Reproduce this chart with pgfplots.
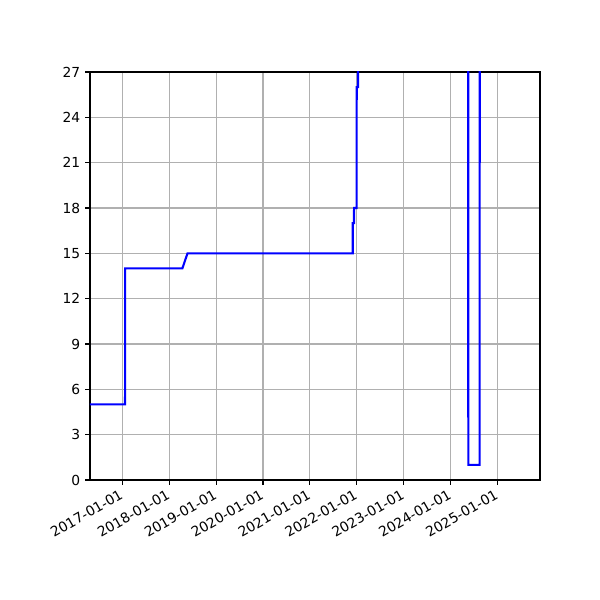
\documentclass[border=0pt]{standalone}
\usepackage{fontspec}
\setmainfont{DejaVu Sans}
\usepackage{pgfplots}
\pgfplotsset{compat=1.18}
\begin{document}
\fontsize{10}{12}\selectfont
\begin{tikzpicture}
\begin{axis}[
    name=ax,
    scale only axis,
    width=4.5in, height=4.08in,
    xmin=2016.311, xmax=2025.906,
    ymin=0, ymax=27,
    ytick={0,3,...,27},
    xtick={2017,2018,2019,2020,2021,2022,2023,2024,2025},
    xticklabels={2017-01-01,2018-01-01,2019-01-01,2020-01-01,2021-01-01,2022-01-01,2023-01-01,2024-01-01,2025-01-01},
    x tick label style={rotate=30, anchor=north east, inner sep=1pt, xshift=-2.5pt},
    grid=major,
    grid style={color=black!31, line width=0.8pt},
    axis line style={line width=0.8pt},
    tick align=outside,
    tick pos=left,
    major tick length=3.5pt,
    tick style={black, line width=0.8pt},
    /pgf/number format/assume math mode=true,
    ticklabel style={font=\fontsize{10}{12}\selectfont},
]
\addplot[color=blue, line width=1.5pt, mark=none] coordinates {
    (2016.311, 5)
    (2017.058, 5)
    (2017.060, 14)
    (2018.280, 14)
    (2018.390, 15)
    (2021.913, 15)
    (2021.914, 17)
    (2021.940, 17)
    (2021.941, 18)
    (2021.997, 18)
    (2021.998, 26)
    (2022.025, 26)
    (2022.027, 40)
    (2024.376, 40)
    (2024.377, 1)
    (2024.620, 1)
    (2024.621, 40)
};
\end{axis}
\path (ax.south west) ++(-0.9in,-1.2in) rectangle ++(6in,6in);
\end{tikzpicture}
\end{document}
